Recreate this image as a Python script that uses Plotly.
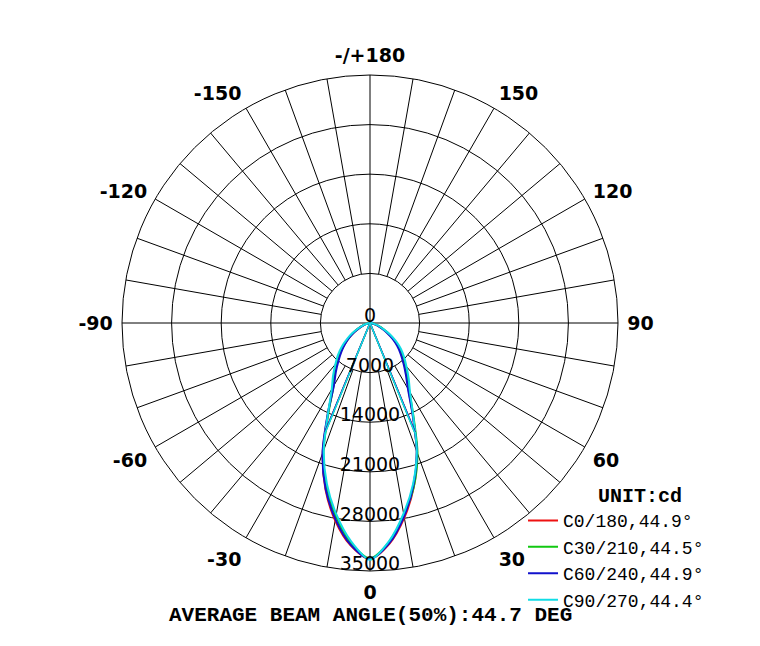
import plotly.graph_objects as go

# ---------------- data ----------------
gamma = [0, 5, 10, 15, 20, 25, 30, 35, 40, 45, 50, 55, 60, 65, 70, 75, 80, 85, 90]

c0 = [33300, 31300, 27900, 23900, 19300, 14300, 10900, 9100, 7600, 6400, 5300, 4100, 3000, 2000, 1300, 800, 400, 150, 0]
c180 = [33300, 31500, 28300, 24300, 19500, 14000, 10400, 8700, 7200, 5900, 4700, 3600, 2600, 1700, 1100, 650, 300, 100, 0]
c30 = [33200, 31000, 27500, 23900, 19600, 14500, 11100, 9200, 7700, 6500, 5400, 4200, 3100, 2100, 1400, 850, 450, 150, 0]
c210 = [33200, 31100, 27700, 23800, 19200, 13800, 10300, 8700, 7200, 6000, 4800, 3700, 2700, 1800, 1150, 700, 320, 100, 0]
c60 = [33300, 31200, 27700, 23700, 19300, 14200, 10700, 8800, 7300, 6100, 5000, 3900, 2800, 1900, 1200, 750, 380, 130, 0]
c240 = [33300, 31400, 28100, 24200, 19600, 14100, 10200, 8400, 6900, 5700, 4600, 3500, 2500, 1700, 1050, 620, 290, 100, 0]
c90 = [33400, 30900, 27300, 23500, 19300, 14400, 11300, 9500, 8000, 6800, 5700, 4500, 3300, 2200, 1450, 900, 480, 160, 0]
c270 = [33400, 30900, 27400, 23500, 19100, 14000, 10800, 9100, 7600, 6400, 5200, 4000, 2900, 1900, 1250, 750, 350, 120, 0]

plane_names = ["C0/180", "C30/210", "C60/240", "C90/270"]
beam_angles = [44.9, 44.5, 44.9, 44.4]
right_sides = [c0, c30, c60, c90]
left_sides = [c180, c210, c240, c270]
colors = ["#ee1111", "#11c811", "#1111cc", "#11dde6"]

radial_ticks = [0, 7000, 14000, 21000, 28000, 35000]
angle_tickvals = [0, 30, 60, 90, 120, 150, 180, 210, 240, 270, 300, 330]
angle_ticktext = ["0", "30", "60", "90", "120", "150", "-/+180", "-150", "-120", "-90", "-60", "-30"]
spoke_step = 10

rmax = radial_ticks[-1]
avg_beam = sum(beam_angles) / len(beam_angles)
radius_px = 248
label_lift = rmax * 5.5 / radius_px   # radial labels sit just above their ring

fig = go.Figure()

# ---------------- grid spokes ----------------
sp_r, sp_t = [], []
for a in range(0, 360, spoke_step):
    start = 0 if a % 90 == 0 else radial_ticks[1]
    sp_r += [start, rmax, None]
    sp_t += [a, a, None]
fig.add_trace(go.Scatterpolar(r=sp_r, theta=sp_t, mode="lines",
                              line=dict(color="black", width=1),
                              showlegend=False, hoverinfo="skip"))

# ---------------- curves ----------------
for name, beam, rs, ls, col in zip(plane_names, beam_angles, right_sides, left_sides, colors):
    theta = [-g for g in reversed(gamma)] + gamma[1:]
    r = list(reversed(ls)) + rs[1:]
    fig.add_trace(go.Scatterpolar(r=r, theta=theta, mode="lines",
                                  line=dict(color=col, width=2, shape="spline", smoothing=0.8),
                                  name=f"{name},{beam}°"))
for name, beam, rs, ls, col in zip(plane_names, beam_angles, right_sides, left_sides, colors):
    half = beam / 2
    fig.add_trace(go.Scatterpolar(r=[ls[0] / 2, 0, rs[0] / 2], theta=[-half, 0, half],
                                  mode="lines", line=dict(color=col, width=1.5),
                                  showlegend=False, hoverinfo="skip"))

# ---------------- radial labels ----------------
lab_r = [abs(v - label_lift) for v in radial_ticks]
lab_t = [180 if v < label_lift else 0 for v in radial_ticks]
fig.add_trace(go.Scatterpolar(r=lab_r, theta=lab_t, mode="text",
                              text=[str(v) for v in radial_ticks], textposition="middle center",
                              textfont=dict(family="DejaVu Sans", size=19, color="black"),
                              cliponaxis=False, showlegend=False, hoverinfo="skip"))

fig.update_layout(
    width=760, height=646,
    margin=dict(l=114, r=150, t=67, b=83),
    paper_bgcolor="white",
    polar=dict(
        bgcolor="white",
        domain=dict(x=[0, 1], y=[0, 1]),
        radialaxis=dict(range=[0, rmax], tickvals=radial_ticks[1:], showticklabels=False,
                        ticks="", showline=False, showgrid=True,
                        gridcolor="black", gridwidth=1),
        angularaxis=dict(rotation=270, direction="counterclockwise",
                         tickvals=angle_tickvals, ticktext=angle_ticktext,
                         showgrid=False, showline=True, linecolor="black", linewidth=1,
                         ticks="outside", ticklen=5, tickcolor="rgba(0,0,0,0)",
                         tickfont=dict(family="DejaVu Sans", size=19, color="black",
                                       weight="bold")),
    ),
    legend=dict(x=0.8085, y=0.191, xanchor="left", yanchor="top",
                bgcolor="rgba(0,0,0,0)",
                font=dict(family="Liberation Mono", size=18, color="black"),
                title=dict(text="\u00a0\u00a0\u00a0\u00a0<b>UNIT:cd</b>", side="top center",
                           font=dict(family="Liberation Mono", size=20, color="black")),
                itemwidth=30, tracegroupgap=0),
    annotations=[dict(xref="paper", yref="paper", x=0.5, y=-0.089, xanchor="center",
                      yanchor="middle", showarrow=False,
                      text=f"<b>AVERAGE BEAM ANGLE(50%):{avg_beam:.1f} DEG</b>",
                      font=dict(family="Liberation Mono", size=21, color="black"))],
)

fig.write_html("out.html")
